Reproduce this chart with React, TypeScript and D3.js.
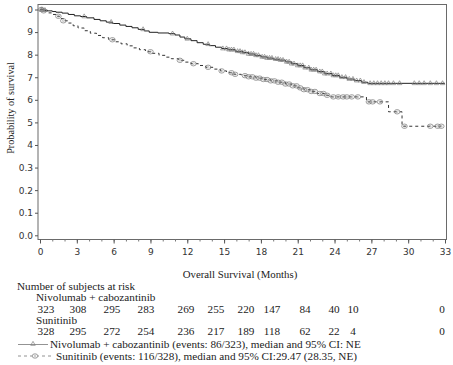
import * as d3 from 'd3';
import * as React from 'react';

// Kaplan-Meier steps: time (months) and survival after the drop
const nivoTimes = [0.3, 0.6, 1.0, 1.3, 1.8, 2.3, 2.8, 3.3, 3.8, 4.4, 4.9, 5.4, 5.9, 6.5, 7.0, 7.5, 8.0, 8.5, 8.9, 9.6, 10.5, 11.0, 11.4, 11.8, 12.3, 12.8, 13.3, 13.8, 14.3, 14.8, 15.3, 15.9, 16.5, 17.0, 17.5, 18.0, 18.5, 19.0, 19.5, 20.0, 20.5, 21.0, 21.5, 22.0, 22.6, 23.2, 23.8, 24.4, 25.0, 25.6, 26.2, 26.7];
const nivoSurv = [0.997, 0.994, 0.991, 0.988, 0.984, 0.978, 0.972, 0.969, 0.963, 0.956, 0.950, 0.944, 0.938, 0.931, 0.925, 0.919, 0.912, 0.905, 0.899, 0.896, 0.893, 0.887, 0.878, 0.870, 0.862, 0.853, 0.846, 0.840, 0.833, 0.827, 0.822, 0.815, 0.810, 0.803, 0.797, 0.790, 0.785, 0.780, 0.776, 0.768, 0.760, 0.752, 0.742, 0.733, 0.725, 0.716, 0.708, 0.700, 0.692, 0.685, 0.678, 0.673];
const nivoEnd = 33;
const nivoCensor = [0.1, 0.2, 0.4, 3.6, 5.8, 8.4, 10.8, 12.0, 13.7, 14.9, 15.2, 15.4, 15.6, 15.8, 16.1, 16.3, 16.5, 16.7, 17.0, 17.2, 17.4, 17.6, 17.8, 18.1, 18.3, 18.5, 18.7, 18.9, 19.2, 19.4, 19.6, 19.8, 20.1, 20.3, 20.5, 20.7, 21.0, 21.2, 21.4, 21.6, 21.9, 22.1, 22.3, 22.5, 22.8, 23.0, 23.2, 23.4, 23.7, 23.9, 24.1, 24.3, 24.6, 24.9, 25.2, 25.5, 25.8, 26.1, 26.4, 26.9, 27.2, 27.5, 27.8, 28.1, 28.4, 28.8, 29.3, 30.5, 30.9, 31.3, 31.8, 32.3, 32.8];

const sunTimes = [0.3, 0.7, 1.0, 1.3, 1.6, 1.9, 2.3, 2.7, 3.1, 3.6, 4.1, 4.6, 5.1, 5.6, 6.1, 6.6, 7.1, 7.6, 8.1, 8.6, 9.1, 9.7, 10.2, 10.7, 11.3, 11.8, 12.3, 12.9, 13.5, 14.1, 14.7, 15.2, 15.8, 16.4, 17.0, 17.6, 18.2, 18.8, 19.4, 20.0, 20.5, 21.0, 21.5, 22.0, 22.6, 23.2, 23.7, 26.6, 28.4, 29.5];
const sunSurv = [0.994, 0.985, 0.978, 0.970, 0.960, 0.950, 0.940, 0.928, 0.918, 0.906, 0.895, 0.885, 0.875, 0.866, 0.857, 0.848, 0.839, 0.830, 0.822, 0.813, 0.806, 0.797, 0.789, 0.782, 0.775, 0.767, 0.760, 0.752, 0.744, 0.736, 0.728, 0.720, 0.713, 0.707, 0.702, 0.696, 0.690, 0.684, 0.678, 0.670, 0.662, 0.653, 0.645, 0.637, 0.628, 0.620, 0.613, 0.591, 0.547, 0.483];
const sunEnd = 32.7;
const sunCensor = [0.1, 0.3, 1.5, 1.9, 5.9, 9.0, 11.4, 12.5, 13.7, 14.8, 15.6, 15.9, 16.7, 17.0, 17.3, 17.6, 17.9, 18.2, 18.5, 18.8, 19.1, 19.4, 19.7, 20.0, 20.3, 20.6, 20.9, 21.2, 21.5, 21.8, 22.1, 22.4, 22.8, 23.1, 23.4, 23.9, 24.3, 24.7, 25.0, 25.4, 25.9, 26.8, 27.1, 27.7, 29.1, 29.7, 31.8, 32.4, 32.7];

const xTicks = [0, 3, 6, 9, 12, 15, 18, 21, 24, 27, 30, 33];
const yTicks = [0, 0.1, 0.2, 0.3, 0.4, 0.5, 0.6, 0.7, 0.8, 0.9, 1.0];
// tick labels as they appear in the picture
const yTickLabels = ['0.0', '0.1', '0.2', '0.3', '4', '5', '6', '7', '8', '9', '0'];

const riskGroups = ['Nivolumab + cabozantinib', 'Sunitinib'];
const nivoAtRisk = [323, 308, 295, 283, 269, 255, 220, 147, 84, 40, 10, 0];
const sunAtRisk = [328, 295, 272, 254, 236, 217, 189, 118, 62, 22, 4, 0];

const legendLabels = [
    'Nivolumab + cabozantinib (events: 86/323), median and 95% CI: NE',
    'Sunitinib (events: 116/328), median and 95% CI:29.47 (28.35, NE)',
];

const W = 453;
const H = 365;
const serif = '"Liberation Serif", "Times New Roman", serif';
const sans = '"DejaVu Sans", Verdana, sans-serif';
const textSize = 11.2;

// column centres of the risk table (it is not aligned with the axis)
const riskColumnX = [46, 78, 112, 146, 186, 216, 246, 272, 305, 334, 353, 442];

const x = d3.scaleLinear().domain([0, 33]).range([40, 445]);
const y = d3.scaleLinear().domain([0, 1]).range([235.3, 9.5]);

function stepPoints(times: number[], surv: number[], end: number): [number, number][] {
    const pts: [number, number][] = [[0, 1]];
    times.forEach((t, i) => pts.push([t, surv[i]]));
    pts.push([end, surv[surv.length - 1]]);
    return pts;
}

function survAt(times: number[], surv: number[], t: number): number {
    let s = 1;
    times.forEach((tt, i) => { if (tt <= t) s = surv[i]; });
    return s;
}

const line = d3.line<[number, number]>()
    .x(d => x(d[0]))
    .y(d => y(d[1]))
    .curve(d3.curveStepAfter);

const triangle = d3.symbol().type(d3.symbolTriangle).size(9);

const Triangle = ({ cx, cy }: { cx: number; cy: number }) => (
    <path d={triangle() as string} transform={`translate(${cx},${cy})`} fill="none" stroke="#808080" strokeWidth={0.7} />
);

const Circle = ({ cx, cy }: { cx: number; cy: number }) => (
    <g transform={`translate(${cx},${cy})`}>
        <ellipse rx={2.8} ry={2.2} fill="none" stroke="#777" strokeWidth={0.7} />
        <circle r={0.9} fill="none" stroke="#999" strokeWidth={0.5} />
    </g>
);

export default function App() {
    const xAxisRef = React.useRef<SVGGElement>(null);
    const xMinorRef = React.useRef<SVGGElement>(null);
    const yAxisRef = React.useRef<SVGGElement>(null);

    React.useEffect(() => {
        const xAxis = d3.axisBottom(x).tickValues(xTicks).tickSize(4).tickPadding(5).tickFormat(d3.format('d'));
        const gx = d3.select(xAxisRef.current);
        gx.call(xAxis);
        gx.select('.domain').remove();
        gx.selectAll('line').attr('stroke', '#555');
        gx.selectAll('text').attr('font-family', sans).attr('font-size', 9).attr('fill', '#333');

        const minor = d3.axisBottom(x).tickValues(d3.range(0, 34, 1)).tickSize(2).tickFormat(() => '');
        const gm = d3.select(xMinorRef.current);
        gm.call(minor);
        gm.select('.domain').remove();
        gm.selectAll('line').attr('stroke', '#777');

        const yAxis = d3.axisLeft(y).tickValues(yTicks).tickSize(3).tickPadding(2)
            .tickFormat((d, i) => yTickLabels[i]);
        const gy = d3.select(yAxisRef.current);
        gy.call(yAxis);
        gy.select('.domain').remove();
        gy.selectAll('line').attr('stroke', '#555');
        gy.selectAll('text').attr('font-family', sans).attr('font-size', 9).attr('fill', '#333');
    }, []);

    const nivoPts = stepPoints(nivoTimes, nivoSurv, nivoEnd);
    const sunPts = stepPoints(sunTimes, sunSurv, sunEnd);

    const rowY = [286, 297.5, 309, 320, 331.5, 344.5, 356];

    return (
        <div style={{ position: 'absolute', left: 0, top: 0 }}>
            <svg width={W} height={H} style={{ display: 'block', background: '#fff' }}>
                {/* frame */}
                <rect x={38} y={4.5} width={408.5} height={235} fill="none" stroke="#6a6a6a" strokeWidth={1} />
                <g ref={xMinorRef} transform="translate(0,239.5)" />
                <g ref={xAxisRef} transform="translate(0,239.5)" />
                <g ref={yAxisRef} transform="translate(38,0)" />

                <text transform={`translate(14,${108}) rotate(-90)`} textAnchor="middle" fontFamily={serif} fontSize={10.2} fill="#222">
                    Probability of survival
                </text>
                <text x={240} y={278} textAnchor="middle" fontFamily={serif} fontSize={10.8} fill="#222">
                    Overall Survival (Months)
                </text>

                {/* curves */}
                <path d={line(sunPts) as string} fill="none" stroke="#333" strokeWidth={1} strokeDasharray="3,3" />
                <path d={line(nivoPts) as string} fill="none" stroke="#222" strokeWidth={1} />
                {sunCensor.map((t, i) => (
                    <Circle key={'s' + i} cx={x(t)} cy={y(survAt(sunTimes, sunSurv, t))} />
                ))}
                {nivoCensor.map((t, i) => (
                    <Triangle key={'n' + i} cx={x(t)} cy={y(survAt(nivoTimes, nivoSurv, t))} />
                ))}

                {/* risk table */}
                <g fontFamily={serif} fontSize={textSize} fill="#222">
                    <text x={17} y={rowY[0] + 3.5}>Number of subjects at risk</text>
                    <text x={36} y={rowY[1] + 3.5}>{riskGroups[0]}</text>
                    {nivoAtRisk.map((n, i) => (
                        <text key={'rn' + i} x={riskColumnX[i]} y={rowY[2] + 3.5} textAnchor="middle">{n}</text>
                    ))}
                    <text x={36} y={rowY[3] + 3.5}>{riskGroups[1]}</text>
                    {sunAtRisk.map((n, i) => (
                        <text key={'rs' + i} x={riskColumnX[i]} y={rowY[4] + 3.5} textAnchor="middle">{n}</text>
                    ))}
                </g>

                {/* legend */}
                <g fontFamily={serif} fontSize={textSize} fill="#222">
                    <line x1={18} x2={48} y1={rowY[5]} y2={rowY[5]} stroke="#777" strokeWidth={0.8} />
                    <Triangle cx={33} cy={rowY[5] - 0.5} />
                    <text x={50} y={rowY[5] + 3.5}>{legendLabels[0]}</text>
                    <line x1={18} x2={53} y1={rowY[6]} y2={rowY[6]} stroke="#777" strokeWidth={0.8} strokeDasharray="3,3" />
                    <rect x={32} y={rowY[6] - 3} width={6} height={6} fill="#fff" />
                    <Circle cx={35} cy={rowY[6]} />
                    <text x={56} y={rowY[6] + 3.5}>{legendLabels[1]}</text>
                </g>
            </svg>
        </div>
    );
}
